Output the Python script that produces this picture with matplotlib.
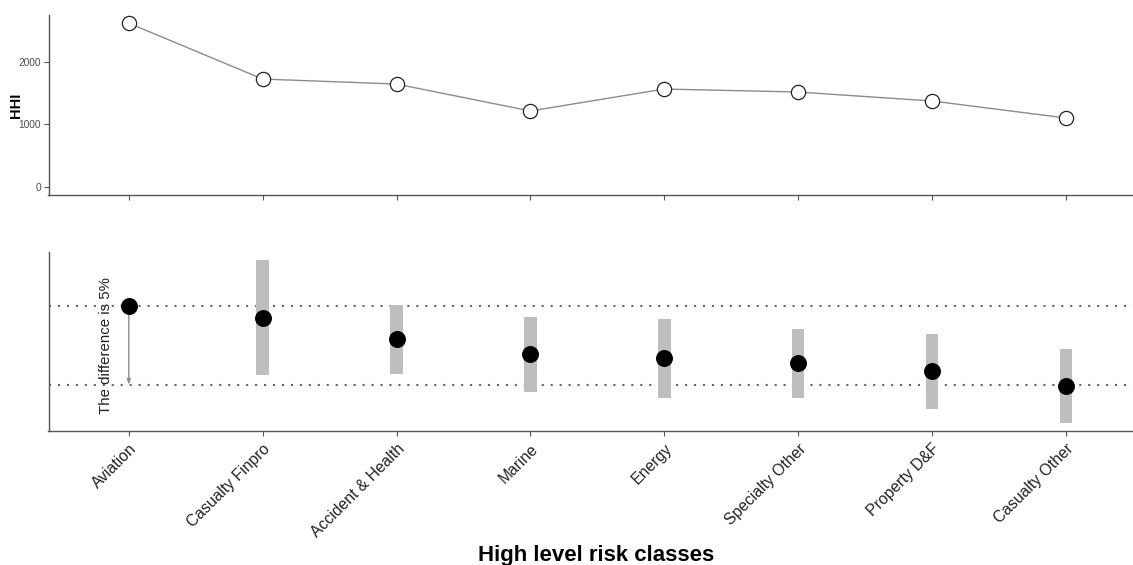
import matplotlib
matplotlib.use("Agg")
import matplotlib.pyplot as plt
import numpy as np

plt.rcParams['font.family'] = ['Liberation Sans', 'DejaVu Sans']

# Risk classes, ordered by concentration
classes = ["Aviation", "Casualty Finpro", "Accident & Health", "Marine",
           "Energy", "Specialty Other", "Property D&F", "Casualty Other"]

# Herfindahl-Hirschman index per class
hhi = [2624, 1728, 1648, 1216, 1568, 1520, 1376, 1104]

# Lower panel: point estimate (%) and its interval per class
estimate = [30.0, 29.24, 27.91, 26.96, 26.71, 26.39, 25.89, 24.94]
low = [np.nan, 25.63, 25.70, 24.56, 24.18, 24.18, 23.48, 22.59]
high = [np.nan, 32.91, 30.06, 29.30, 29.18, 28.54, 28.23, 27.28]

difference = 5.0
reference = estimate[0]

x = np.arange(1, len(classes) + 1)

fig = plt.figure(figsize=(11.33, 5.65), dpi=100)
W, H = 1133, 565
left_px, right_px = 48.5, 1146.2
ax1 = fig.add_axes([left_px / W, 1 - 195 / H, (right_px - left_px) / W, 180 / H])
ax2 = fig.add_axes([left_px / W, 1 - 431 / H, (right_px - left_px) / W, 179 / H])

spine_col = "#555555"
for ax in (ax1, ax2):
    for s in ("top", "right"):
        ax.spines[s].set_visible(False)
    for s in ("left", "bottom"):
        ax.spines[s].set_color(spine_col)
        ax.spines[s].set_linewidth(1.0)
    ax.tick_params(color=spine_col, length=3.5, width=0.8)
    ax.set_xlim(0.4, len(classes) + 0.6)
    ax.set_xticks(x)

# --- Top panel: HHI line ---
ax1.plot(x, hhi, color="#8c8c8c", lw=1.0, zorder=1)
ax1.scatter(x, hhi, s=105, facecolor="white", edgecolor="#222222",
            linewidth=0.9, zorder=2)
ymax = max(hhi)
pad = 0.05 * ymax
ax1.set_ylim(0 - pad, ymax + pad)
ax1.set_yticks([0, 1000, 2000])
ax1.tick_params(axis="y", labelsize=7.3, labelcolor="#4d4d4d", pad=2)
ax1.set_xticklabels([])
ax1.set_ylabel("HHI", fontsize=10.5, fontweight="bold")
ax1.yaxis.set_label_coords((23 - left_px) / (right_px - left_px), 0.5)

# --- Bottom panel: estimates with intervals ---
lo_all = np.nanmin(low)
hi_all = np.nanmax(high)
rng = hi_all - lo_all
ax2.set_ylim(lo_all - 0.05 * rng, hi_all + 0.05 * rng)

dot_style = (0, (1, 3.3))
ax2.axhline(reference, color="#666666", lw=1.5, ls=dot_style, zorder=0)
ax2.axhline(reference - difference, color="#666666", lw=1.5, ls=dot_style, zorder=0)

for xi, lo, hi in zip(x, low, high):
    if np.isnan(lo):
        continue
    ax2.bar(xi, hi - lo, bottom=lo, width=0.093, color="#bebebe", zorder=1)

ax2.scatter(x, estimate, s=125, color="black", zorder=3)

ax2.annotate("", xy=(x[0], reference - difference), xytext=(x[0], reference),
             arrowprops=dict(arrowstyle="-|>,head_length=0.3,head_width=0.1",
                             color="#8c8c8c", lw=1.0, shrinkA=0, shrinkB=0),
             zorder=2)
ax2.text(x[0] - 0.17, reference - difference / 2, "The difference is 5%",
         rotation=90, ha="center", va="center", fontsize=10.8, color="#222222")

ax2.set_yticks([])
ax2.set_xticklabels(classes, rotation=45, ha="right", rotation_mode="anchor",
                    fontsize=11.3, color="#222222")
ax2.tick_params(axis="x", pad=4)

fig.text(596 / W, 1 - 561 / H, "High level risk classes", ha="center",
         va="baseline", fontsize=16, fontweight="bold", color="black")

fig.savefig("out.png", dpi=100)
